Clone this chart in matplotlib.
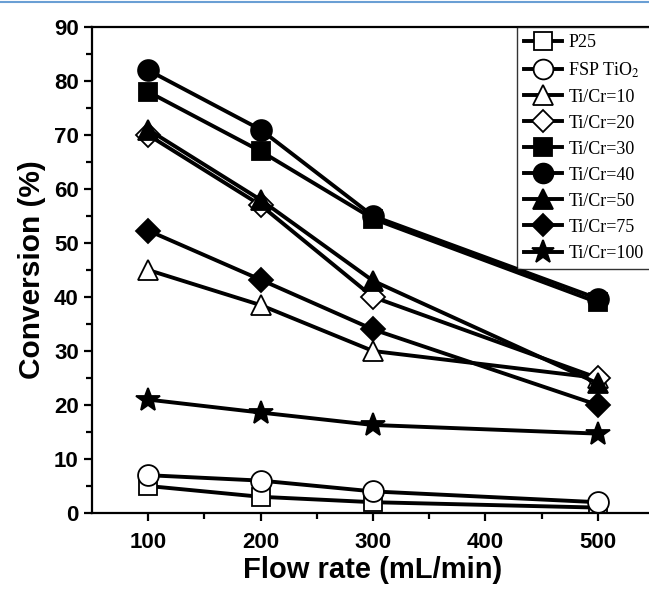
import matplotlib.pyplot as plt
from matplotlib.lines import Line2D

plt.rcParams['mathtext.fontset'] = 'stix'

flow = [100, 200, 300, 500]

p25 = [5, 3, 2, 1]
fsp = [7, 6, 4, 2]
ticr10 = [45, 38.5, 30, 25]
ticr20 = [70, 57, 40, 25]
ticr30 = [78, 67, 54.5, 39]
ticr40 = [82, 71, 55, 39.7]
ticr50 = [71, 58, 43, 24]
ticr75 = [52.3, 43.2, 34, 20]
ticr100 = [21, 18.6, 16.3, 14.7]

labels = ['P25', 'FSP TiO$_2$', 'Ti/Cr=10', 'Ti/Cr=20', 'Ti/Cr=30',
          'Ti/Cr=40', 'Ti/Cr=50', 'Ti/Cr=75', 'Ti/Cr=100']
series = [p25, fsp, ticr10, ticr20, ticr30, ticr40, ticr50, ticr75, ticr100]
markers = ['s', 'o', '^', 'D', 's', 'o', '^', 'D', '*']
fills = ['white', 'white', 'white', 'white', 'black', 'black', 'black', 'black', 'black']
sizes = [13, 15, 15, 12, 13, 15, 15, 12, 18]

fig = plt.figure(figsize=(6.49, 5.93), dpi=100)
# axes box runs past the right edge of the picture (cropped figure)
ax = fig.add_axes([92 / 649, 1 - 513 / 593, 562 / 649, 486 / 593])

for y, lab, m, fc, ms in zip(series, labels, markers, fills, sizes):
    ax.plot(flow, y, color='black', lw=2.8, marker=m, markersize=ms,
            markerfacecolor=fc, markeredgecolor='black', markeredgewidth=1.3,
            label=lab)

ax.set_xlim(50, 550)
ax.set_ylim(0, 90)
ax.set_xticks([100, 200, 300, 400, 500])
ax.set_xticks([150, 250, 350, 450], minor=True)
ax.set_yticks(range(0, 91, 10))
ax.set_yticks(range(5, 90, 10), minor=True)
for s in ax.spines.values():
    s.set_linewidth(1.6)
ax.tick_params(which='major', direction='out', length=6, width=1.6, labelsize=16)
ax.tick_params(axis='x', which='major', pad=8)
ax.tick_params(which='minor', direction='out', length=4, width=1.6)
for t in ax.get_xticklabels() + ax.get_yticklabels():
    t.set_fontweight('bold')
    t.set_family('Liberation Sans')

ax.set_xlabel('Flow rate (mL/min)', fontsize=21, fontweight='bold',
              family='Liberation Sans', labelpad=2)
ax.set_ylabel('Conversion (%)', fontsize=21.5, fontweight='bold',
              family='Liberation Sans', labelpad=6)

x0 = (517 - 92) / 562
leg = ax.legend(loc='upper left', bbox_to_anchor=(x0, 0, 1 - x0, 1.0),
                mode='expand',
                prop={'family': 'Liberation Serif', 'size': 13},
                frameon=True, fancybox=False, edgecolor='black',
                handlelength=2.1, handletextpad=0.35, labelspacing=0.5,
                borderpad=0.4, borderaxespad=0, markerscale=0.95)
leg.get_frame().set_linewidth(1)
leg._legend_box.align = 'left'

fig.add_artist(Line2D([0, 1], [1 - 1.5 / 593, 1 - 1.5 / 593], color='#6a9fd4', lw=1.5))

fig.savefig('out.png', dpi=100)
